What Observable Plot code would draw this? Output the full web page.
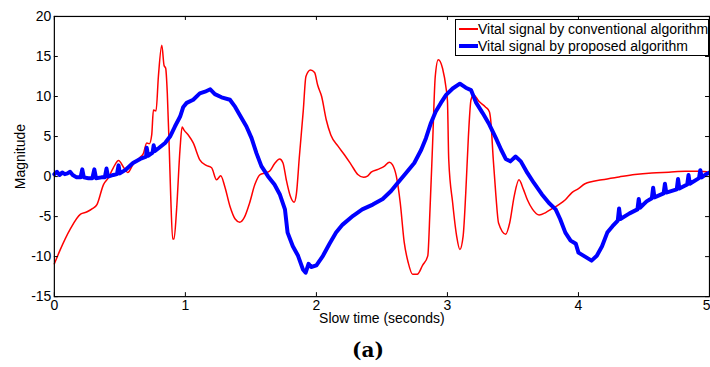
<!DOCTYPE html>
<html><head><meta charset="utf-8">
<script src="https://cdn.jsdelivr.net/npm/d3@7"></script>
<script src="https://cdn.jsdelivr.net/npm/@observablehq/plot@0.6"></script>
<style>
html,body{margin:0;padding:0;background:#fff;overflow:hidden;}
#wrap{position:relative;width:710px;height:367px;overflow:hidden;font-family:"Liberation Sans",Arial,sans-serif;}
#legend{position:absolute;left:455px;top:19px;width:254px;height:37px;box-sizing:border-box;border:1px solid #000;background:#fff;}
.sw{position:absolute;left:3px;width:19px;}
.lab{position:absolute;left:22px;font-size:14px;white-space:nowrap;line-height:16px;color:#000;}
#caption{position:absolute;top:338px;left:0;width:736px;text-align:center;font:bold 20px "DejaVu Serif","Liberation Serif",serif;color:#000;}
</style></head>
<body>
<div id="wrap"><div id="chart"></div>
<div id="legend"></div>
<div id="caption"></div>
</div>
<script>
// ---- data ----
const seriesNames = ["Vital signal by conventional algorithm", "Vital signal by proposed algorithm"];
const seriesColors = ["#ff0000", "#0000ff"];
const xTicks = [0, 1, 2, 3, 4, 5];
const yTicks = [-15, -10, -5, 0, 5, 10, 15, 20];
const xLabel = "Slow time (seconds)";
const yLabel = "Magnitude";
const captionText = "(a)";

const convT = [0,0.046,0.12,0.2,0.25,0.29,0.325,0.375,0.41,0.45,0.49,0.53,0.56,0.6,0.655,0.68,0.705,0.725,0.743,0.756,0.776,0.794,0.82,0.837,0.85,0.862,0.877,0.888,0.903,0.913,0.933,0.959,0.975,0.99,1.022,1.06,1.11,1.16,1.2,1.238,1.27,1.3,1.34,1.38,1.415,1.45,1.49,1.53,1.57,1.61,1.644,1.68,1.72,1.745,1.77,1.8,1.83,1.847,1.87,1.9,1.92,1.955,1.986,2.01,2.04,2.075,2.11,2.165,2.215,2.265,2.316,2.36,2.39,2.418,2.47,2.52,2.557,2.58,2.61,2.64,2.67,2.7,2.734,2.77,2.81,2.85,2.867,2.887,2.907,2.93,2.963,2.99,3.0,3.01,3.04,3.07,3.095,3.12,3.14,3.16,3.18,3.2,3.24,3.29,3.32,3.33,3.35,3.37,3.39,3.445,3.475,3.51,3.546,3.58,3.61,3.65,3.7,3.75,3.8,3.85,3.9,3.95,4.0,4.05,4.18,4.31,4.43,4.56,4.69,4.815,4.92,4.98];
const convV = [-10.9,-9.1,-6.6,-4.7,-4.4,-4.0,-3.5,-1.0,-0.2,1.1,2.0,1.1,0.5,1.5,2.4,2.9,4.2,4.1,5.2,8.3,8.2,12.5,16.4,13.9,13.5,10.4,3.4,-2.4,-7.8,-7.8,-4.1,3.4,6.2,5.8,5.2,4.2,2.1,1.4,1.1,-0.4,0.1,-1.2,-3.7,-5.3,-5.7,-5.1,-3.3,-1.0,0.25,0.45,0.7,1.6,2.2,1.7,-0.4,-2.4,-3.2,-2.2,2.5,8.3,12.5,13.3,13.0,11.4,10.0,7.1,5.2,3.8,2.7,1.5,0.25,-0.1,0.05,0.55,0.9,1.3,1.8,1.5,0.05,-3.3,-8.2,-10.7,-12.2,-12.2,-11.1,-9.9,-4.1,4.2,12.5,14.6,13.5,11.0,9.5,2.1,-3.3,-7.4,-9.1,-7.4,-2.0,5.0,9.6,10.2,9.4,8.7,8.1,7.1,2.1,-2.4,-5.8,-7.2,-5.8,-2.4,-0.4,-1.6,-2.9,-4.1,-4.8,-4.5,-4.0,-3.5,-2.9,-2.0,-1.5,-0.9,-0.4,-0.05,0.25,0.45,0.55,0.65,0.65,0.6];

const propT = [0,0.02,0.04,0.06,0.08,0.1,0.12,0.14,0.17,0.2,0.213,0.225,0.26,0.29,0.305,0.318,0.36,0.385,0.398,0.41,0.45,0.478,0.49,0.5,0.54,0.6,0.655,0.7,0.705,0.715,0.75,0.758,0.768,0.8,0.845,0.883,0.92,0.96,0.984,1.01,1.06,1.11,1.15,1.19,1.225,1.276,1.34,1.38,1.415,1.466,1.505,1.543,1.58,1.63,1.68,1.72,1.76,1.78,1.82,1.86,1.897,1.918,1.94,1.96,2.0,2.05,2.1,2.15,2.2,2.28,2.35,2.43,2.506,2.57,2.62,2.684,2.747,2.8,2.836,2.874,2.91,2.95,2.99,3.04,3.095,3.14,3.18,3.22,3.27,3.32,3.37,3.41,3.445,3.48,3.52,3.56,3.61,3.66,3.72,3.775,3.826,3.86,3.9,3.94,3.98,4.0,4.05,4.1,4.14,4.18,4.22,4.26,4.3,4.31,4.32,4.39,4.45,4.46,4.47,4.52,4.56,4.57,4.58,4.65,4.66,4.67,4.75,4.76,4.77,4.83,4.84,4.85,4.92,4.93,4.94,4.97,5.0];
const propV = [0.3,0.6,0.2,0.5,0.3,0.4,0.6,0.2,-0.1,-0.1,0.9,-0.1,-0.2,-0.2,0.9,-0.2,-0.1,-0.1,1.0,0.0,0.2,0.3,1.4,0.4,0.8,1.7,2.2,2.5,3.6,2.6,3.0,3.9,3.2,3.6,4.2,5.0,6.25,7.5,8.7,9.2,9.6,10.4,10.6,10.9,10.3,9.9,9.6,8.7,7.7,6.25,4.8,2.9,1.3,0.05,-1.0,-2.2,-4.1,-7.0,-8.7,-9.9,-11.6,-12.0,-10.9,-11.3,-11.1,-9.9,-8.4,-7.0,-6.0,-4.9,-4.1,-3.5,-2.8,-1.8,-0.8,0.45,1.7,3.35,4.8,6.7,8.1,9.2,10.2,11.0,11.6,11.1,10.8,9.2,7.9,6.5,4.8,3.35,2.2,1.9,2.5,1.9,0.45,-0.8,-2.2,-3.3,-4.1,-5.3,-7.0,-8.0,-8.4,-9.5,-10.0,-10.5,-9.9,-8.7,-7.0,-6.2,-5.5,-4.0,-5.3,-4.6,-4.1,-2.8,-3.9,-3.1,-2.7,-1.4,-2.6,-2.1,-0.9,-2.0,-1.6,-0.3,-1.5,-1.0,0.2,-0.9,-0.2,0.8,-0.1,0.25,0.5];

// ---- build table ----
const rows = [];
convT.forEach((t, i) => rows.push({t, v: convV[i], s: seriesNames[0]}));
propT.forEach((t, i) => rows.push({t, v: propV[i], s: seriesNames[1]}));
const conv = rows.filter(d => d.s === seriesNames[0]);
const prop = rows.filter(d => d.s === seriesNames[1]);

const fmt = d => String(d);
const xInner = xTicks.slice(0, -1);
const xLast = xTicks.slice(-1);

const chart = Plot.plot({
  width: 712, height: 335,
  marginTop: 16, marginBottom: 38, marginLeft: 54, marginRight: 1,
  style: {fontFamily: '"Liberation Sans", Arial, sans-serif', fontSize: "14px", color: "#000", background: "#fff"},
  x: {domain: [0, 5]},
  y: {domain: [-15, 20]},
  marks: [
    Plot.line(conv, {x: "t", y: "v", stroke: seriesColors[0], strokeWidth: 1.5, curve: "monotone-x"}),
    Plot.line(prop, {x: "t", y: "v", stroke: seriesColors[1], strokeWidth: 4, curve: "linear", strokeLinejoin: "round"}),
    Plot.frame({stroke: "#000", strokeWidth: 1.2}),
    Plot.ruleX(xTicks, {x: d => d, y1: -15, y2: -14.5, stroke: "#000"}),
    Plot.ruleX(xTicks, {x: d => d, y1: 20, y2: 19.5, stroke: "#000"}),
    Plot.ruleY(yTicks, {y: d => d, x1: 0, x2: 0.03, stroke: "#000"}),
    Plot.ruleY(yTicks, {y: d => d, x1: 4.97, x2: 5, stroke: "#000"}),
    Plot.axisX(xInner, {anchor: "bottom", tickSize: 0, tickPadding: 3, tickFormat: fmt, label: null, fontSize: 14}),
    Plot.axisX(xLast, {anchor: "bottom", tickSize: 0, tickPadding: 3, tickFormat: fmt, label: null, fontSize: 14, textAnchor: "end", dx: 1}),
    Plot.axisY(yTicks, {anchor: "left", tickSize: 0, tickPadding: 3, tickFormat: fmt, label: null, fontSize: 14}),
    Plot.text([xLabel], {text: d => d, frameAnchor: "bottom", dy: 26, fontSize: 14, fill: "#000"}),
    Plot.text([yLabel], {text: d => d, frameAnchor: "left", textAnchor: "middle", dx: -34, rotate: -90, fontSize: 14, fill: "#000"})
  ]
});
document.getElementById("chart").appendChild(chart);

// legend
const legend = document.getElementById("legend");
seriesNames.forEach((name, i) => {
  const cy = i === 0 ? 9 : 25.5;
  const h = i === 0 ? 1.5 : 4;
  const sw = document.createElement("div");
  sw.className = "sw";
  sw.style.top = (cy - h / 2) + "px";
  sw.style.height = h + "px";
  sw.style.background = seriesColors[i];
  legend.appendChild(sw);
  const lab = document.createElement("div");
  lab.className = "lab";
  lab.style.top = (cy - 8) + "px";
  lab.textContent = name;
  legend.appendChild(lab);
});
document.getElementById("caption").textContent = captionText;
</script>
</body></html>
